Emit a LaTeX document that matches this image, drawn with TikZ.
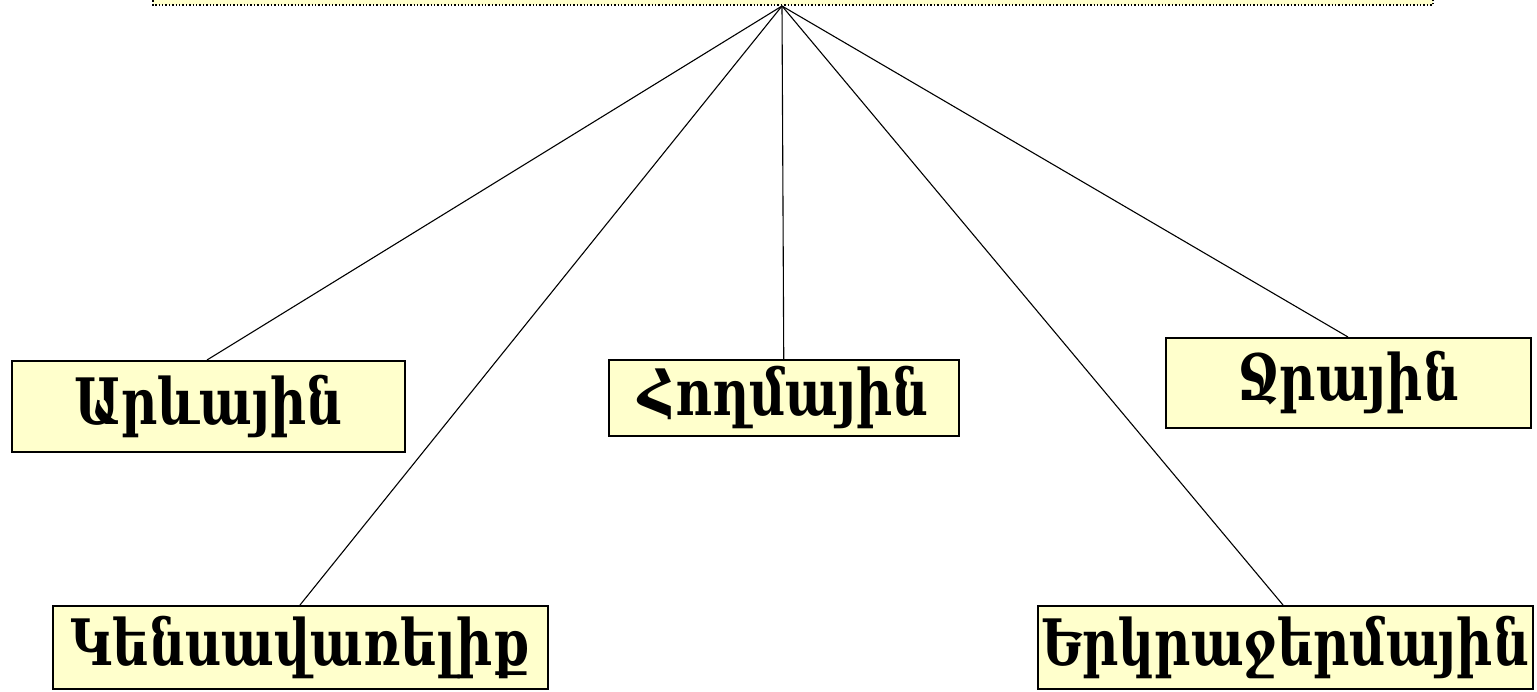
\documentclass[tikz,border=0pt]{standalone}
\usepackage{fontspec}
\newfontfamily\armfont{DejaVu Serif}
\definecolor{boxfill}{HTML}{FFFFCC}
\newcommand{\armtxt}[1]{\scalebox{1}[1.28]{#1}}
\begin{document}
\begin{tikzpicture}[x=1pt,y=-1pt,
  leaf/.style={draw=black,line width=1.5pt,fill=boxfill,inner sep=0pt,anchor=north west,
    font=\armfont\bfseries\fontsize{50}{60}\selectfont},
  link/.style={line width=1.1pt}]
\useasboundingbox (0,0) rectangle (1537,691);
\fill[boxfill] (153,-20) rectangle (1433,5);
\draw[dotted,line width=1.4pt] (153,-20) -- (153,5) -- (1433,5) -- (1433,-20);
\coordinate (hub) at (782,6);
\node[leaf,minimum width=393pt,minimum height=91pt] (a) at (11,360) {\armtxt{Արևային}};
\node[leaf,minimum width=350pt,minimum height=76pt] (b) at (608,359) {\armtxt{Հողմային}};
\node[leaf,minimum width=365pt,minimum height=90pt] (c) at (1165,337) {\armtxt{Ջրային}};
\node[leaf,minimum width=495pt,minimum height=83pt] (d) at (52,605) {\armtxt{Կենսավառելիք}};
\node[leaf,minimum width=495pt,minimum height=83pt] (e) at (1037,605) {\armtxt{Երկրաջերմային}};
\draw[link] (hub) -- (a.north -| 207,0);
\draw[link] (hub) -- (b.north);
\draw[link] (hub) -- (c.north -| 1348,0);
\draw[link] (hub) -- (d.north -| 300,0);
\draw[link] (hub) -- (e.north -| 1283,0);
\end{tikzpicture}
\end{document}
